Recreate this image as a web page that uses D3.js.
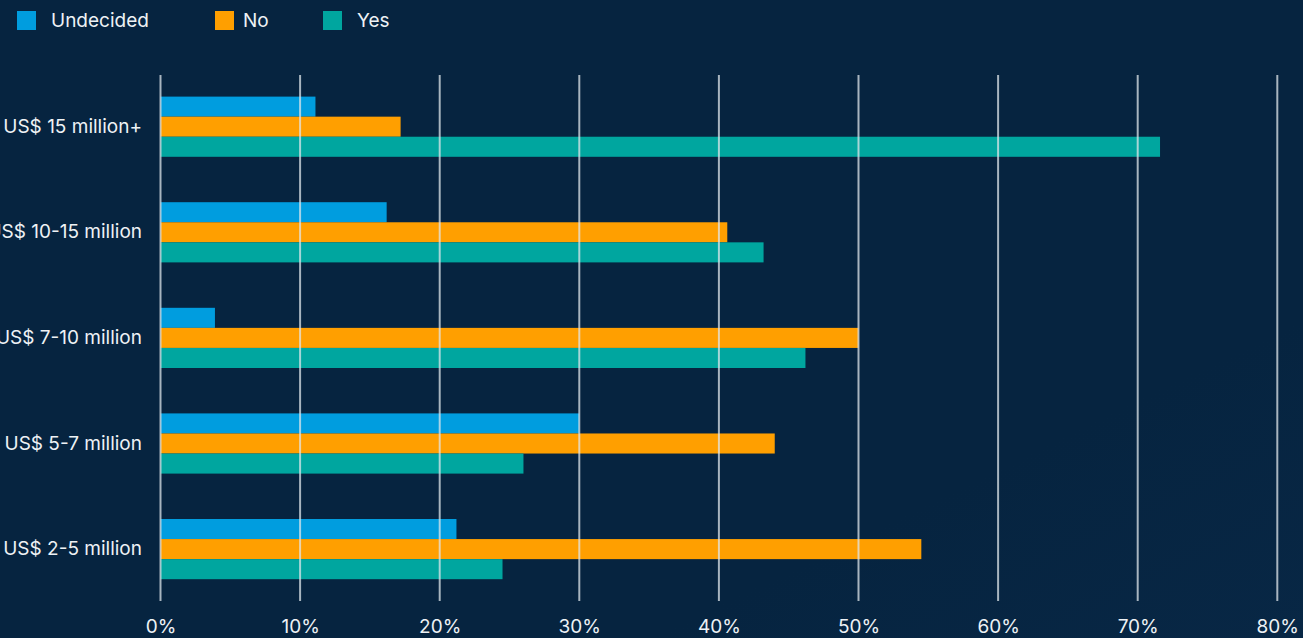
<!DOCTYPE html>
<html><head><meta charset="utf-8">
<script src="https://cdn.jsdelivr.net/npm/d3@7"></script>
<style>
html,body{margin:0;padding:0;background:#062440;overflow:hidden;}
svg{display:block;font-family:Inter, "Noto Sans", sans-serif;}
</style></head>
<body>
<svg id="chart" width="1303" height="638"></svg>
<script>
const categories = ["US$ 15 million+","US$ 10-15 million","US$ 7-10 million","US$ 5-7 million","US$ 2-5 million"];
const seriesNames = ["Undecided","No","Yes"];
const undecided = [11.1, 16.2, 3.9, 30.0, 21.2];
const no = [17.2, 40.6, 50.0, 44.0, 54.5];
const yes = [71.6, 43.2, 46.2, 26.0, 24.5];
const tickValues = [0,10,20,30,40,50,60,70,80];
const colors = ["#009ddf","#ff9f00","#00a69f"];

const svg = d3.select("#chart");
const W = 1303, H = 638;
const defs = svg.append("defs");
const grad = defs.append("linearGradient").attr("id","bg").attr("x1","0").attr("y1","0").attr("x2","1").attr("y2","1");
grad.append("stop").attr("offset","0").attr("stop-color","#062440");
grad.append("stop").attr("offset","0.75").attr("stop-color","#062440");
grad.append("stop").attr("offset","1").attr("stop-color","#082745");
svg.append("rect").attr("width",W).attr("height",H).attr("fill","url(#bg)");

const x = d3.scaleLinear().domain([0,80]).range([160.5,1277.3]);
const y = d3.scaleBand().domain(categories).range([73.9,601.9]).paddingInner(0.43).paddingOuter(0.215);
const ySub = d3.scaleBand().domain(seriesNames).range([0,y.bandwidth()]);

const series = [undecided, no, yes];
const data = [];
categories.forEach((c,i)=>{
  seriesNames.forEach((s,j)=>{ data.push({cat:c, series:s, value:series[j][i], color:colors[j]}); });
});

svg.append("g").selectAll("rect").data(data).join("rect")
  .attr("x", x(0))
  .attr("y", d=>y(d.cat)+ySub(d.series))
  .attr("width", d=>x(d.value)-x(0))
  .attr("height", ySub.bandwidth())
  .attr("fill", d=>d.color);

// gridlines on top
const grid = svg.append("g");
grid.selectAll("line").data(tickValues).join("line")
  .attr("x1", d=>x(d)).attr("x2", d=>x(d))
  .attr("y1", 75).attr("y2", 601)
  .attr("stroke", "#dfe5ea").attr("stroke-opacity", 0.75).attr("stroke-width", 2);

const FS = "19px";
// x axis tick labels
const xAxis = d3.axisBottom(x).tickValues(tickValues).tickFormat(d=>d+"%").tickSize(0).tickPadding(0);
const gx = svg.append("g").attr("transform","translate(0,619)").call(xAxis);
gx.select(".domain").remove();
gx.selectAll("text").attr("fill","#eef2f5").attr("font-size",FS).attr("dy","0.71em")
  .attr("font-family","Inter, 'Noto Sans', sans-serif");

// y axis labels
const yAxis = d3.axisLeft(y).tickSize(0).tickPadding(0);
const gy = svg.append("g").attr("transform","translate(142,0)").call(yAxis);
gy.select(".domain").remove();
gy.selectAll("text").attr("fill","#eef2f5").attr("font-size",FS)
  .attr("font-family","Inter, 'Noto Sans', sans-serif");

// legend
const legendX = [17, 215, 323];
const legendTextX = [51, 243, 357];
const leg = svg.append("g");
seriesNames.forEach((s,i)=>{
  leg.append("rect").attr("x",legendX[i]).attr("y",11).attr("width",19).attr("height",19).attr("fill",colors[i]);
  leg.append("text").attr("x",legendTextX[i]).attr("y",27).text(s)
    .attr("fill","#eef2f5").attr("font-size",FS);
});
</script>
</body></html>
